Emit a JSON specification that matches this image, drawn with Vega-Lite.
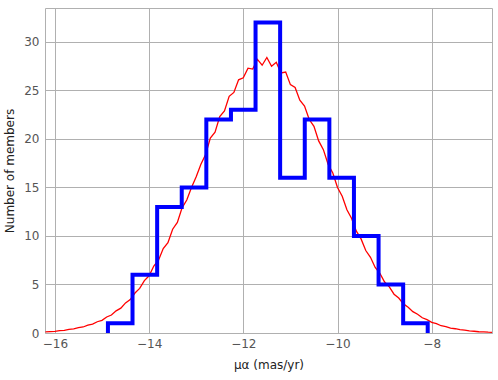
{
  "$schema": "https://vega.github.io/schema/vega-lite/v6.json",
  "width": 447,
  "height": 325,
  "autosize": "none",
  "padding": {"left": 45, "top": 8, "right": 6, "bottom": 47},
  "background": "white",
  "config": {
    "font": "DejaVu Sans",
    "view": {"stroke": "#b0b0b0", "strokeWidth": 1},
    "axis": {
      "grid": true, "gridColor": "#b0b0b0", "gridWidth": 1,
      "domain": false, "ticks": false,
      "labelColor": "#555555", "labelFontSize": 12, "labelFont": "DejaVu Sans",
      "titleColor": "#222222", "titleFontSize": 12, "titleFontWeight": "normal", "titleFont": "DejaVu Sans"
    }
  },
  "datasets": {
    "curve": [
      {"x": -16.2, "y": 0.11}, {"x": -16.1, "y": 0.15}, {"x": -16.0, "y": 0.17}, {"x": -15.9, "y": 0.24},
      {"x": -15.8, "y": 0.27}, {"x": -15.7, "y": 0.37}, {"x": -15.6, "y": 0.42}, {"x": -15.5, "y": 0.55},
      {"x": -15.4, "y": 0.62}, {"x": -15.3, "y": 0.8}, {"x": -15.2, "y": 0.92}, {"x": -15.1, "y": 1.16},
      {"x": -15.0, "y": 1.3}, {"x": -14.9, "y": 1.65}, {"x": -14.8, "y": 1.85}, {"x": -14.7, "y": 2.28},
      {"x": -14.6, "y": 2.56}, {"x": -14.5, "y": 3.1}, {"x": -14.4, "y": 3.45}, {"x": -14.3, "y": 4.12},
      {"x": -14.2, "y": 4.6}, {"x": -14.1, "y": 5.4}, {"x": -14.0, "y": 5.9}, {"x": -13.9, "y": 6.9},
      {"x": -13.8, "y": 7.5}, {"x": -13.7, "y": 8.7}, {"x": -13.6, "y": 9.3}, {"x": -13.5, "y": 10.7},
      {"x": -13.4, "y": 11.4}, {"x": -13.3, "y": 12.9}, {"x": -13.2, "y": 13.7}, {"x": -13.1, "y": 15.0},
      {"x": -13.0, "y": 16.1}, {"x": -12.9, "y": 17.4}, {"x": -12.8, "y": 18.4}, {"x": -12.7, "y": 20.1},
      {"x": -12.6, "y": 20.7}, {"x": -12.5, "y": 22.3}, {"x": -12.4, "y": 22.9}, {"x": -12.3, "y": 24.4},
      {"x": -12.2, "y": 24.8}, {"x": -12.1, "y": 26.1}, {"x": -12.0, "y": 26.3}, {"x": -11.9, "y": 27.3},
      {"x": -11.8, "y": 27.2}, {"x": -11.7, "y": 28.2}, {"x": -11.6, "y": 27.6}, {"x": -11.5, "y": 28.4},
      {"x": -11.4, "y": 27.5}, {"x": -11.3, "y": 27.9}, {"x": -11.2, "y": 26.8}, {"x": -11.1, "y": 26.9},
      {"x": -11.0, "y": 25.6}, {"x": -10.9, "y": 25.3}, {"x": -10.8, "y": 24.0}, {"x": -10.7, "y": 23.4},
      {"x": -10.6, "y": 22.0}, {"x": -10.5, "y": 21.3}, {"x": -10.4, "y": 19.8}, {"x": -10.3, "y": 18.9},
      {"x": -10.2, "y": 17.4}, {"x": -10.1, "y": 16.5}, {"x": -10.0, "y": 15.0}, {"x": -9.9, "y": 14.1},
      {"x": -9.8, "y": 12.7}, {"x": -9.7, "y": 11.8}, {"x": -9.6, "y": 10.5}, {"x": -9.5, "y": 9.7},
      {"x": -9.4, "y": 8.5}, {"x": -9.3, "y": 7.8}, {"x": -9.2, "y": 6.75}, {"x": -9.1, "y": 6.15},
      {"x": -9.0, "y": 5.25}, {"x": -8.9, "y": 4.75}, {"x": -8.8, "y": 4.0}, {"x": -8.7, "y": 3.6},
      {"x": -8.6, "y": 3.0}, {"x": -8.5, "y": 2.66}, {"x": -8.4, "y": 2.2}, {"x": -8.3, "y": 1.93},
      {"x": -8.2, "y": 1.57}, {"x": -8.1, "y": 1.37}, {"x": -8.0, "y": 1.1}, {"x": -7.9, "y": 0.96},
      {"x": -7.8, "y": 0.75}, {"x": -7.7, "y": 0.66}, {"x": -7.6, "y": 0.5}, {"x": -7.5, "y": 0.44},
      {"x": -7.4, "y": 0.34}, {"x": -7.3, "y": 0.29}, {"x": -7.2, "y": 0.21}, {"x": -7.1, "y": 0.18},
      {"x": -7.0, "y": 0.13}, {"x": -6.9, "y": 0.11}, {"x": -6.8, "y": 0.08}, {"x": -6.72, "y": 0.07}
    ],
    "hist": [
      {"x": -14.874, "y": 0}, {"x": -14.874, "y": 1}, {"x": -14.352, "y": 6}, {"x": -13.829, "y": 13},
      {"x": -13.307, "y": 15}, {"x": -12.785, "y": 22}, {"x": -12.262, "y": 23}, {"x": -11.740, "y": 32},
      {"x": -11.218, "y": 16}, {"x": -10.695, "y": 22}, {"x": -10.173, "y": 16}, {"x": -9.651, "y": 10},
      {"x": -9.128, "y": 5}, {"x": -8.606, "y": 1}, {"x": -8.085, "y": 0}
    ]
  },
  "layer": [
    {
      "data": {"name": "curve"},
      "mark": {"type": "line", "color": "#ff0000", "strokeWidth": 1.3},
      "encoding": {
        "x": {"field": "x", "type": "quantitative", "scale": {"domain": [-16.21, -6.72], "nice": false, "zero": false},
              "axis": {"values": [-16, -14, -12, -10, -8], "title": "μα (mas/yr)", "titlePadding": 10, "labelPadding": 5}},
        "y": {"field": "y", "type": "quantitative", "scale": {"domain": [0, 33.5], "nice": false},
              "axis": {"values": [0, 5, 10, 15, 20, 25, 30], "title": "Number of members", "titlePadding": 7, "labelPadding": 6}}
      }
    },
    {
      "data": {"name": "hist"},
      "mark": {"type": "line", "color": "#0000ff", "strokeWidth": 4, "interpolate": "step-after", "strokeJoin": "miter", "strokeCap": "butt"},
      "encoding": {
        "x": {"field": "x", "type": "quantitative"},
        "y": {"field": "y", "type": "quantitative"}
      }
    }
  ]
}
